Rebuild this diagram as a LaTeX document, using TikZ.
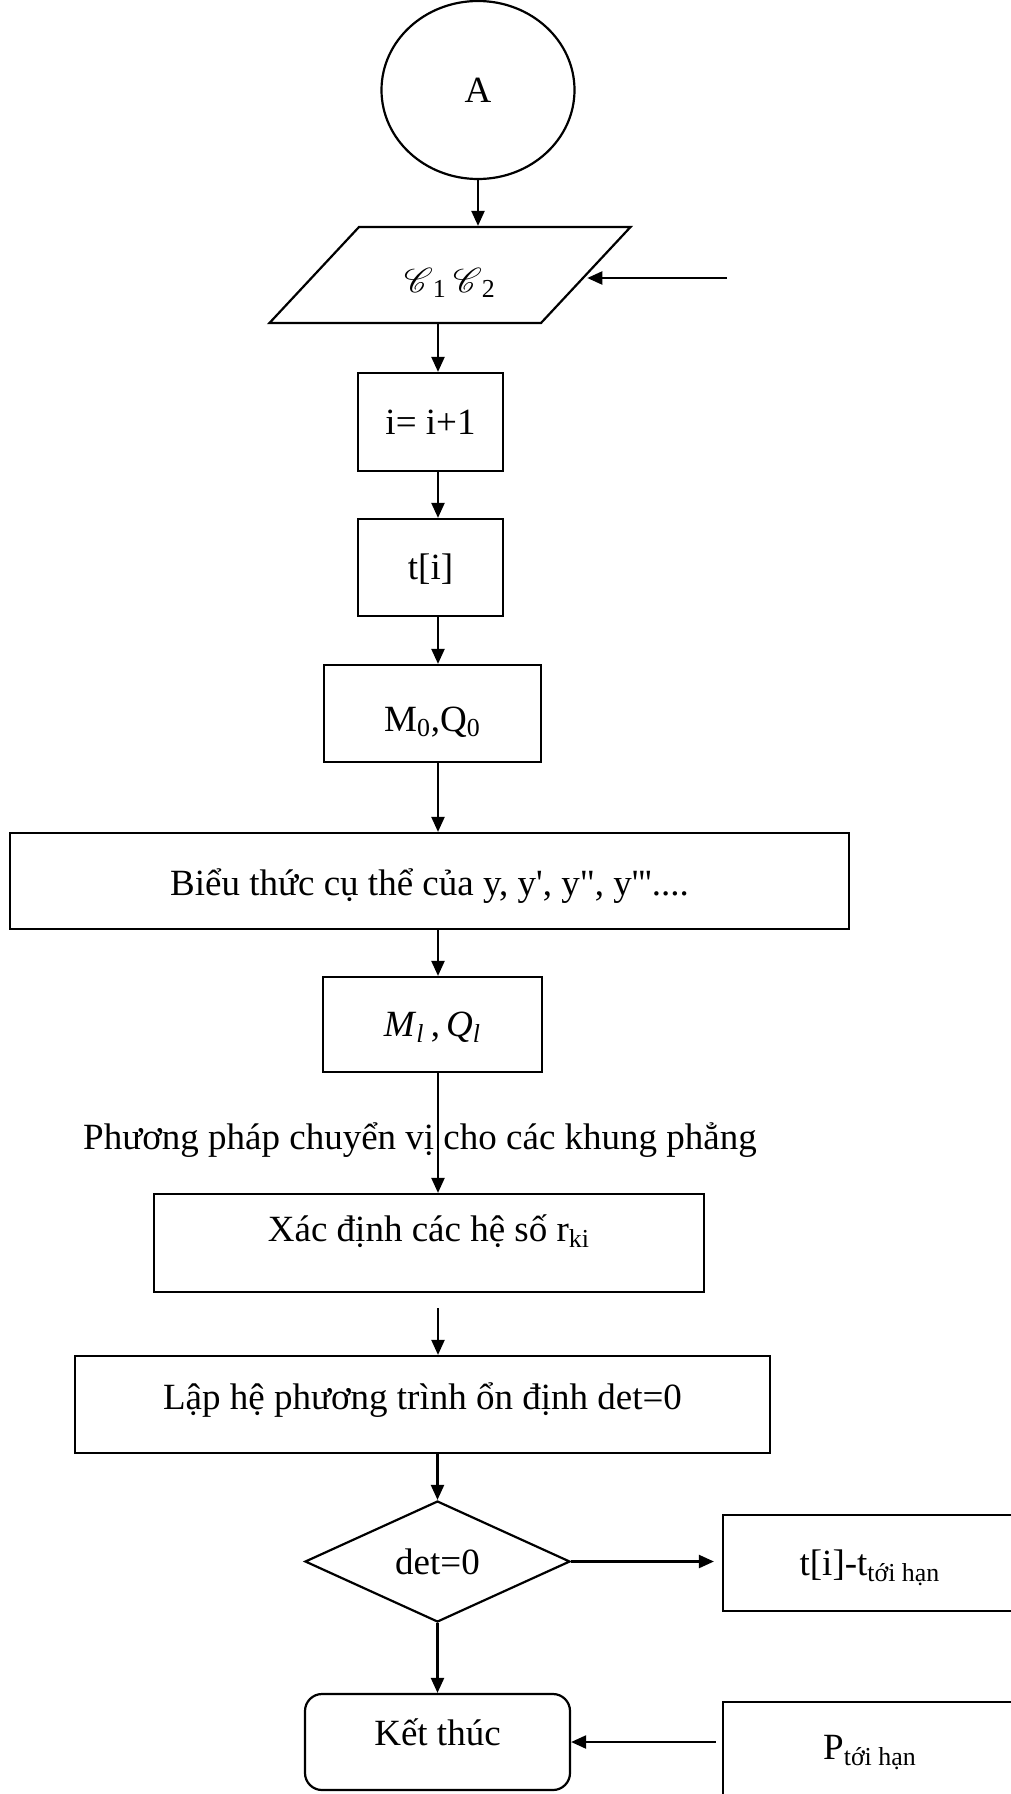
\documentclass[tikz,border=0pt]{standalone}
\usepackage{fontspec}
\setmainfont{Liberation Serif}
\usepackage{mathrsfs}
\usetikzlibrary{shapes.geometric,arrows.meta}

\begin{document}
\begin{tikzpicture}[x=0.5pt,y=-0.5pt,line width=1.1pt,font=\fontsize{18.5}{22}\selectfont,
  box/.style={draw,rectangle,inner sep=0pt,minimum width=#1,minimum height=48.5pt,text height=12pt,text depth=0pt},
  arr/.style={-{Triangle[length=7.5pt,width=6.5pt]}}]
\useasboundingbox (0,0) rectangle (1011,1794);
\clip (0,0) rectangle (1011,1794);
\coordinate (spine) at (438,0);
\coordinate (feed) at (727,278);
\node[draw,ellipse,inner sep=0pt,minimum width=96.5pt,minimum height=89pt] (A) at (478,90) {A};
\node[draw,trapezium,trapezium left angle=47,trapezium right angle=133,inner sep=0pt,
  text width=91pt,align=center,text height=32.5pt,text depth=15.5pt] (data) at (450,275)
  {$\mathscr{C}$\textsubscript{1}\,$\mathscr{C}$\textsubscript{2}};
\node[box=72.5pt,minimum height=49pt] (inc) at (430.5,422) {i= i+1};
\node[box=72.5pt] (step) at (430.5,567.5) {t[i]};
\node[box=108.5pt,text height=18pt] (mq) at (432.5,713.5) {M\textsubscript{0},Q\textsubscript{0}};
\node[box=419.5pt,minimum height=48pt,text height=14pt] (expr) at (429.5,881)
  {Biểu thức cụ thể của y, y\textquotesingle, y\textquotedbl, y\textquotesingle\textquotesingle\textquotesingle....};
\node[box=109.5pt,minimum height=47.5pt] (ml) at (432.5,1024.5)
  {\textit{M}\textsubscript{\textit{l}}\,,\,\textit{Q}\textsubscript{\textit{l}}};
\node[anchor=base] (method) at (420,1149) {Phương pháp chuyển vị cho các khung phẳng};
\node[box=275pt,minimum height=49pt,text depth=14pt] (xac) at (429,1243)
  {Xác định các hệ số r\textsubscript{ki}};
\node[box=347.5pt,text depth=7pt] (lap) at (422.5,1404.5)
  {Lập hệ phương trình ổn định det=0};
\node[draw,diamond,inner sep=0pt,minimum width=132.5pt,minimum height=60.5pt] (det) at (437.5,1561.5) {det=0};
\node[box=147pt,minimum height=48pt] (tcrit) at (870,1563) {t[i]-t\textsubscript{tới hạn}};
\node[box=132.5pt,minimum height=48pt,rounded corners=8.5pt,text depth=9pt] (end) at (437.5,1742) {Kết thúc};
\node[box=147pt,minimum height=48pt,text depth=3pt] (pcrit) at (870,1750) {P\textsubscript{tới hạn}};
\draw[arr] (A) -- (A |- data.north);
\draw[arr] (feed) -- (data.east |- feed);
\draw[arr] (spine |- data.south) -- (spine |- inc.north);
\draw[arr] (spine |- inc.south) -- (spine |- step.north);
\draw[arr] (spine |- step.south) -- (spine |- mq.north);
\draw[arr] (spine |- mq.south) -- (spine |- expr.north);
\draw[arr] (spine |- expr.south) -- (spine |- ml.north);
\draw[arr] (spine |- ml.south) -- (spine |- xac.north);
\draw[arr,shorten <=7.5pt] (spine |- xac.south) -- (spine |- lap.north);
\draw[arr] (det |- lap.south) -- (det);
\draw[arr,shorten >=4pt] (det) -- (tcrit.west |- det);
\draw[arr] (det) -- (end);
\draw[arr,shorten <=3pt] (pcrit.west |- end) -- (end);
\end{tikzpicture}
\end{document}
